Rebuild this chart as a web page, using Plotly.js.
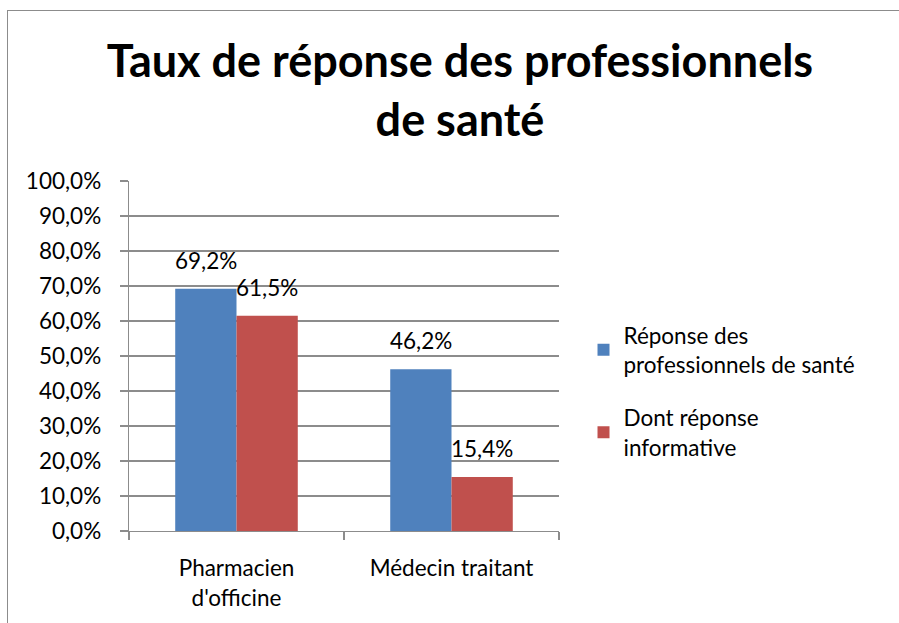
<!DOCTYPE html>
<html>
<head>
<meta charset="utf-8">
<script src="https://cdn.plot.ly/plotly-3.0.1.min.js"></script>
<style>
  html, body { margin: 0; padding: 0; background: #fff; overflow: hidden; }
  #frame { position: absolute; left: 7px; top: 10px; width: 1000px; height: 1000px;
           border-left: 1.5px solid #8c8c8c; border-top: 1.5px solid #8c8c8c; }
  #chart { position: absolute; left: 0; top: 0; width: 899px; height: 623px; }
</style>
</head>
<body>
<div id="frame"></div>
<div id="chart"></div>
<script>
const categories = ["Pharmacien<br>d'officine", "Médecin traitant"];
const seriesNames = ["Réponse des<br>professionnels de santé", "Dont réponse<br>informative"];
const reponse = [69.2, 46.2];
const informative = [61.5, 15.4];
const yTicks = [0, 10, 20, 30, 40, 50, 60, 70, 80, 90, 100];
const colors = ["#4F81BD", "#C0504D"];

const FONT = "Lato, 'Open Sans', sans-serif";
const seriesValues = [reponse, informative];
const BARGAP = 0.43;

const traces = seriesValues.map((vals, i) => ({
  type: "bar",
  name: seriesNames[i],
  x: categories,
  y: vals,
  marker: { color: colors[i], line: { width: 0 } },
  legendgroup: "g" + i,
  hoverinfo: "skip"
}));

function fmt(v) { return v.toFixed(1).replace(".", ",") + "%"; }

const L = 129, R = 340, T = 181, B = 92;
const catPx = (899 - L - R) / categories.length;
const barPx = catPx * (1 - BARGAP) / 2;

const annotations = [];
seriesValues.forEach((vals, i) => {
  vals.forEach((v, j) => {
    annotations.push({
      x: categories[j], y: v, xref: "x", yref: "y",
      text: fmt(v), showarrow: false,
      xanchor: "center", yanchor: "bottom",
      xshift: (i === 0 ? -1 : 1) * barPx / 2,
      yshift: 13,
      font: { family: FONT, size: 22.5, color: "#000" }
    });
  });
});

const layout = {
  width: 899, height: 623,
  margin: { l: L, r: R, t: T, b: B },
  paper_bgcolor: "rgba(0,0,0,0)",
  plot_bgcolor: "rgba(0,0,0,0)",
  font: { family: FONT, size: 22.5, color: "#000" },
  title: {
    text: "<b>Taux de réponse des professionnels<br>de santé</b>",
    font: { family: FONT, size: 45, color: "#000" },
    xref: "container", x: 460 / 899, xanchor: "center",
    yref: "container", y: 1 - 77 / 623, yanchor: "top"
  },
  barmode: "group",
  bargap: BARGAP,
  bargroupgap: 0,
  showlegend: true,
  legend: {
    x: 1.057, xanchor: "left", y: 0.40, yanchor: "middle",
    font: { family: FONT, size: 22.5, color: "#000" },
    tracegroupgap: 21,
    bgcolor: "rgba(0,0,0,0)"
  },
  xaxis: {
    type: "category",
    showline: true, linecolor: "#8c8c8c", linewidth: 1.3,
    ticks: "outside", tickson: "boundaries", ticklen: 8, tickcolor: "#8c8c8c", tickwidth: 1.3,
    ticklabelstandoff: 17,
    showgrid: false, zeroline: false,
    tickfont: { family: FONT, size: 22.5, color: "#000" }
  },
  yaxis: {
    range: [0, 100],
    tickvals: yTicks,
    ticktext: yTicks.map(fmt),
    showline: true, linecolor: "#8c8c8c", linewidth: 1.3,
    ticks: "outside", ticklen: 8, tickcolor: "#8c8c8c", tickwidth: 1.3,
    ticklabelstandoff: 14,
    showgrid: true, gridcolor: "#8c8c8c", gridwidth: 1.3,
    zeroline: false,
    tickfont: { family: FONT, size: 22.5, color: "#000" }
  },
  annotations: annotations
};

Plotly.newPlot("chart", traces, layout, { displayModeBar: false, staticPlot: true });
</script>
</body>
</html>
